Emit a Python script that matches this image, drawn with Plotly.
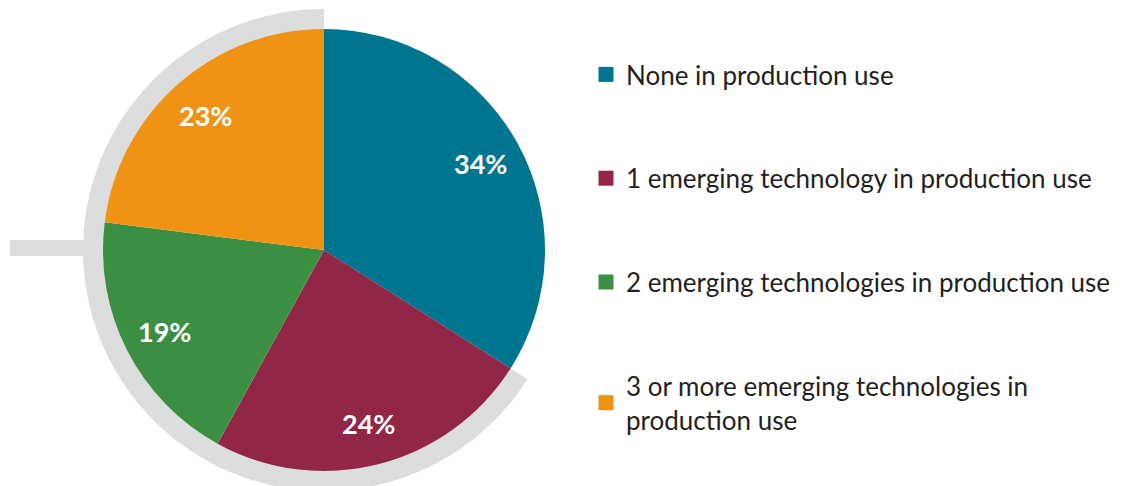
import math
import plotly.graph_objects as go

# ---- data ----
labels = [
    "None in production use",
    "1 emerging technology in production use",
    "2 emerging technologies in production use",
    "3 or more emerging technologies in<br>production use",
]
values = [34, 24, 19, 23]
colors = ["#00758f", "#922647", "#3b8f43", "#f09214"]
ring_color = "#dcdedd"

# page offset (browser body margin) compensated by shrinking the figure
OFF = 8
W, H = 1136 - OFF, 486 - OFF
CX, CY, R = 324 - OFF, 250 - OFF, 221
FONT = "Lato"

fig = go.Figure()

fig.add_trace(go.Pie(
    labels=labels, values=values, sort=False, direction="clockwise", rotation=0,
    marker=dict(colors=colors, line=dict(width=0)),
    textinfo="none",
    domain=dict(x=[(CX - R) / W, (CX + R) / W], y=[1 - (CY + R) / H, 1 - (CY - R) / H]),
    showlegend=False, hoverinfo="skip",
))

# legend entries
for lab, col in zip(labels, colors):
    fig.add_trace(go.Scatter(
        x=[None], y=[None], mode="markers", name=lab, legendgroup=lab,
        marker=dict(symbol="square", size=15, color=col), hoverinfo="skip",
    ))

# percentage labels along each slice bisector
total = sum(values)
annotations = []
cum = 0
for v in values:
    mid = math.radians((cum + v / 2) / total * 360)
    cum += v
    rr = 0.81 * R
    annotations.append(dict(
        x=CX + rr * math.sin(mid), y=CY - rr * math.cos(mid), xref="x", yref="y",
        text=f"{v}%", showarrow=False,
        font=dict(family=FONT, size=27, color="white", weight="bold"),
    ))

# decorative grey arc behind the non-first slices
start = values[0] / total * 360
r_in, r_out = R - 1, R + 20
n = 120
outer, inner = [], []
for i in range(n + 1):
    a = math.radians(start + (360 - start) * i / n)
    outer.append((CX + r_out * math.sin(a), CY - r_out * math.cos(a)))
    inner.append((CX + r_in * math.sin(a), CY - r_in * math.cos(a)))
pts = outer + inner[::-1]
path = "M " + " L ".join(f"{x:.2f},{y:.2f}" for x, y in pts) + " Z"

fig.update_layout(
    width=W, height=H, margin=dict(l=0, r=0, t=0, b=0),
    paper_bgcolor="white", plot_bgcolor="white",
    xaxis=dict(range=[0, W], visible=False, fixedrange=True),
    yaxis=dict(range=[H, 0], visible=False, fixedrange=True),
    shapes=[
        dict(type="path", path=path, xref="x", yref="y", fillcolor=ring_color,
             line=dict(width=0), layer="below"),
        dict(type="rect", x0=10 - OFF, x1=CX - r_in, y0=240 - OFF, y1=256 - OFF,
             xref="x", yref="y", fillcolor=ring_color, line=dict(width=0), layer="below"),
    ],
    annotations=annotations,
    legend=dict(
        x=(586 - OFF) / W, xanchor="left", y=1 - (51 - OFF) / H, yanchor="top",
        font=dict(family=FONT, size=26, color="#231f20"),
        traceorder="grouped", tracegroupgap=67, bgcolor="rgba(0,0,0,0)",
    ),
    font=dict(family=FONT),
)

fig.write_html("out.html")
